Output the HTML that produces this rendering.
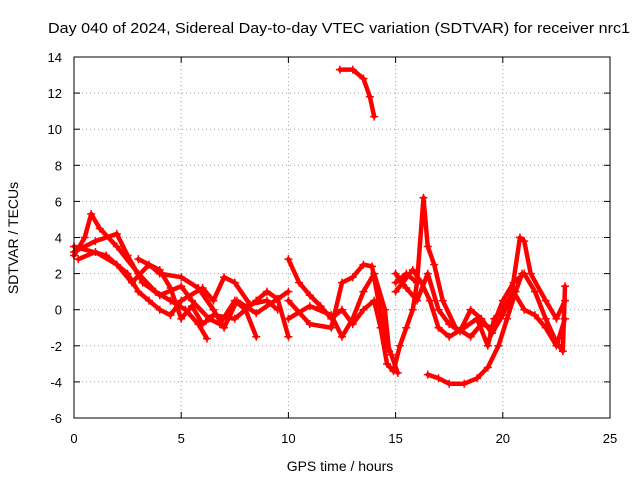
<!DOCTYPE html>
<html><head><meta charset="utf-8">
<style>
body{margin:0;background:#fff;}
svg{display:block;font-family:"Liberation Sans",sans-serif;}
</style></head>
<body>
<svg id="chart" width="640" height="480">
<rect width="640" height="480" fill="#fff"/>
<text x="339" y="33" text-anchor="middle" font-size="15" textLength="582" lengthAdjust="spacingAndGlyphs">Day 040 of 2024, Sidereal Day-to-day VTEC variation (SDTVAR) for receiver nrc1</text>
<text x="340" y="471" text-anchor="middle" font-size="14">GPS time / hours</text>
<text transform="translate(18,238) rotate(-90)" text-anchor="middle" font-size="14">SDTVAR / TECUs</text>
<g id="grid"></g>
<g id="axes"></g>
<g id="series"></g>
<rect x="74" y="57" width="536" height="361" fill="none" stroke="#000" stroke-width="1"/>
</svg>
<script>
const xTicks=[0,5,10,15,20,25];
const yTicks=[-6,-4,-2,0,2,4,6,8,10,12,14];
const trackA=[[0,3.0],[0.5,4.0],[0.8,5.3],[1.2,4.5],[2,3.5],[3,2.0],[3.8,1.0],[4.5,0.5],[5.2,0],[5.8,-0.8],[6.2,-1.6]];
const trackB=[[0,3.2],[1,3.8],[2,4.2],[2.5,3.0],[3.2,1.5],[4,0.8],[5,1.3],[5.5,0.5],[6.3,-0.5],[6.8,-0.8],[7.5,0.5],[8,0],[8.5,-1.5]];
const trackC=[[0,3.5],[1.5,3.0],[2.5,2],[3,1],[3.5,0.5],[4,0],[4.5,-0.3],[5,0.5],[6,1.2],[6.5,0.5],[7,1.8],[7.5,1.5],[8.2,0.3],[9,0.5],[9.5,0]];
const trackD=[[0.2,2.8],[1,3.2],[2,2.5],[2.7,1.5],[3.5,2.5],[4,2.0],[5,1.8],[5.8,1.2],[6.5,0],[7,-1.0],[7.6,0.5],[8.5,-0.2],[9.5,0.6],[10,-1.5]];
const trackE=[[3,2.8],[4,2.2],[4.5,1.2],[5,-0.5],[5.5,0.2],[6,-0.8],[6.5,-0.3],[7.5,-0.5],[8.5,0.5],[9,1.0],[9.5,0.6],[10,1.0]];
const trackF=[[10,2.8],[10.5,1.5],[11,0.8],[11.5,0.2],[12,-0.5],[12.5,0],[13,-0.8],[13.5,0],[14,0.5],[14.3,-1.0],[14.6,-3.0],[14.9,-3.4],[15.2,-2.0],[15.5,-1.0],[15.8,0.0],[16,1.5]];
const trackG=[[10,0.5],[11,-0.8],[12,-1.0],[12.5,1.5],[13,1.8],[13.5,2.5],[13.9,2.4],[14.2,0.5],[14.5,-1.5],[14.8,-2.5],[15.1,-3.5]];
const trackH=[[10,-0.5],[11,0.2],[12,-0.3],[12.5,-1.5],[13,-0.5],[13.5,1],[14,2],[14.5,0],[14.7,-2.3]];
const trackI=[[15,1.5],[15.5,2.0],[16,1.5],[16.3,6.2],[16.5,3.5],[16.8,2.5],[17.2,0.5],[17.8,-1.0],[18.5,-1.5],[19,-0.8],[19.5,-1.0],[20,0.5],[20.5,1.5],[21,2.0],[21.5,1.0],[22,-0.5],[22.5,-1.8],[22.8,-2.3],[22.9,1.3]];
const trackJ=[[15,2.0],[15.5,1.2],[16,0.5],[16.5,2.0],[17,0.0],[17.5,-0.8],[18,-1.2],[18.5,0],[19,-0.5],[19.5,-1.3],[20,-0.3],[20.4,0.8],[20.8,4.0],[21,3.8],[21.3,2],[22,0.5],[22.5,-0.5],[22.9,0.5]];
const trackK=[[15,1],[15.8,2.2],[16.2,1.5],[16.6,0.5],[17,-1.0],[17.5,-1.5],[18.2,-1.0],[18.8,-0.5],[19.3,-2.0],[19.6,-0.5],[20,0],[20.5,1.0],[21,0],[21.5,-0.3],[22,-1.0],[22.5,-2.0],[22.9,-0.5]];
const trackTop=[[12.4,13.3],[13.0,13.3],[13.5,12.8],[13.8,11.8],[14.0,10.7]];
const trackBottom=[[16.5,-3.6],[17,-3.8],[17.5,-4.1],[18.2,-4.1],[18.8,-3.8],[19.3,-3.2],[19.8,-2.0],[20.2,-0.5],[20.6,1.0],[20.9,2.0]];
const tracks=[trackA,trackB,trackC,trackD,trackE,trackF,trackG,trackH,trackI,trackJ,trackK,trackTop,trackBottom];

const X0=74,X1=610,Y0=418,Y1=57;
const sx=v=>X0+(v-0)/(25-0)*(X1-X0);
const sy=v=>Y0-(v+6)/(14+6)*(Y0-Y1);
const NS="http://www.w3.org/2000/svg";
function mk(tag,attrs,parent){const e=document.createElementNS(NS,tag);for(const k in attrs)e.setAttribute(k,attrs[k]);parent.appendChild(e);return e;}
const grid=document.getElementById('grid'),axes=document.getElementById('axes'),ser=document.getElementById('series');
xTicks.forEach(t=>{
  const x=sx(t);
  if(t>0&&t<25){const g=mk('line',{x1:x,x2:x,y1:Y1,y2:Y0,stroke:'#a0a0a0','stroke-dasharray':'1,3'},grid);
  
  }
  mk('line',{x1:x,x2:x,y1:Y0,y2:Y0-6,stroke:'#000'},axes);
  mk('line',{x1:x,x2:x,y1:Y1,y2:Y1+6,stroke:'#000'},axes);
  const tx=mk('text',{x:x,y:443,'text-anchor':'middle','font-size':'13'},axes);tx.textContent=t;
  
  
});
yTicks.forEach(t=>{
  const y=sy(t);
  if(t>-6&&t<14){const g=mk('line',{x1:X0,x2:X1,y1:y,y2:y,stroke:'#a0a0a0','stroke-dasharray':'1,3'},grid);
  
  }
  mk('line',{x1:X0,x2:X0+6,y1:y,y2:y,stroke:'#000'},axes);
  mk('line',{x1:X1,x2:X1-6,y1:y,y2:y,stroke:'#000'},axes);
  const tx=mk('text',{x:62,y:y+5,'text-anchor':'end','font-size':'13'},axes);tx.textContent=t;
  
  
});
tracks.forEach((tr,i)=>{
  const pl=mk('polyline',{points:tr.map(p=>sx(p[0])+','+sy(p[1])).join(' '),fill:'none',stroke:'#f00','stroke-width':'4.5','stroke-linejoin':'round','stroke-linecap':'round'},ser);
  
  
  tr.forEach(p=>{
    const x=sx(p[0]),y=sy(p[1]);
    const m=mk('path',{d:`M${x-4},${y}H${x+4}M${x},${y-4}V${y+4}`,stroke:'#f00','stroke-width':'1.5'},ser);
    
    
  });
});
</script>
</body></html>
